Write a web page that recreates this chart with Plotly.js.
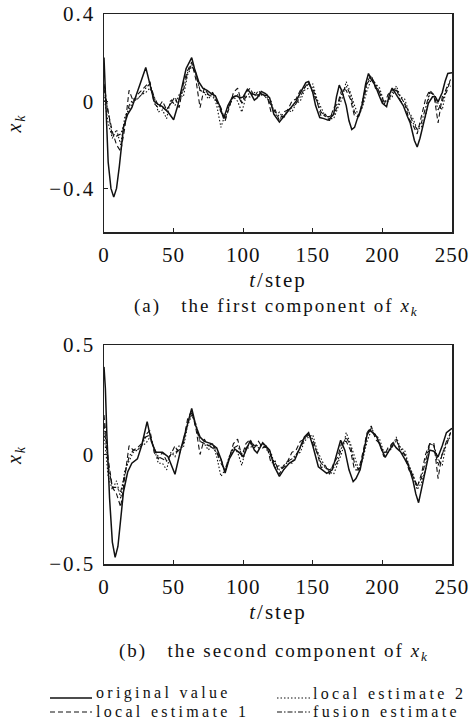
<!DOCTYPE html>
<html>
<head>
<meta charset="utf-8">
<script src="https://cdn.plot.ly/plotly-3.0.1.min.js"></script>
<style>
html, body { margin: 0; padding: 0; background: #fff; }
#chart { width: 469px; height: 726px; }
svg text { letter-spacing: 2px; }
.xtick text, .x2tick text { letter-spacing: 1px; }
</style>
</head>
<body>
<div id="chart"></div>
<script>
// ---------- data ----------
var tEst = [0,3,6,9,12,15,18,21,24,27,30,33,36,39,42,45,48,51,54,57,60,63,66,69,72,75,78,81,84,87,90,93,96,99,102,105,108,111,114,117,120,123,126,129,132,135,138,141,144,147,150,153,156,159,162,165,168,171,174,177,180,183,186,189,192,195,198,201,204,207,210,213,216,219,222,225,228,231,234,237,240,243,246,249];

// (a) first component
var tOrig1 = [0,1,3,5,7,9,11,14,17,20,23,26,30,33,36,39,42,46,50,53,56,59,63,65,68,71,74,77,80,83,86,89,92,95,98,100,103,105,108,110,113,116,119,122,126,129,132,135,138,142,145,147,150,152,155,158,161,165,167,169,171,174,176,178,180,182,185,188,190,192,195,198,200,203,205,207,210,212,215,218,220,223,225,227,229,231,233,236,238,240,243,245,247,250];
var orig1 = [0.2,0.05,-0.28,-0.40,-0.44,-0.40,-0.30,-0.12,-0.06,-0.03,0.03,0.08,0.155,0.07,0.0,-0.015,-0.025,-0.05,-0.085,-0.02,0.06,0.15,0.2,0.15,0.09,0.06,0.05,0.035,0.025,-0.02,-0.08,-0.02,0.015,0.025,0.015,0.02,0.055,0.04,0.005,0.015,0.045,0.035,0.015,-0.06,-0.095,-0.07,-0.045,-0.025,0.0,0.05,0.085,0.09,0.04,-0.02,-0.075,-0.08,-0.087,-0.06,0.02,0.074,0.045,-0.02,-0.09,-0.13,-0.12,-0.08,-0.03,0.08,0.127,0.1,0.07,0.02,-0.01,-0.025,0.03,0.06,0.03,0.01,-0.02,-0.07,-0.1,-0.18,-0.21,-0.17,-0.12,-0.06,-0.01,0.02,0.02,-0.003,0.04,0.09,0.127,0.13];
var local1a = [0.08,-0.05,-0.14,-0.2,-0.23,-0.12,0.05,0.0,0.03,0.05, 0.07,0.09,-0.01,-0.03,0.0,-0.04,-0.01,0.02,-0.03,0.08, 0.14,0.18,0.1,-0.03,0.06,0.03,0.04,0.0,-0.03,-0.09, -0.03,0.04,0.06,-0.01,0.04,0.06,0.02,0.05,0.02,0.03, -0.05,-0.04,-0.09,-0.05,-0.04,0.0,0.01,0.05,0.06,0.09, 0.04,0.0,-0.07,-0.06,-0.09,-0.03,-0.01,0.06,0.05,0.01, -0.07,-0.07,0.01,0.09,0.12,0.06,0.04,-0.02,0.03,0.05, 0.06,0.0,-0.01,-0.08,-0.11,-0.15,-0.07,0.01,0.05,0.03, -0.1,0.02,0.04,0.1];
var local2a = [0.02,-0.1,-0.17,-0.13,-0.2,-0.07,-0.04,0.0,0.01,0.03, 0.04,0.06,0.02,-0.05,-0.04,-0.08,0.01,-0.02,0.03,0.02, 0.12,0.16,0.13,0.05,0.04,0.01,0.04,-0.02,-0.12,-0.06, -0.02,0.02,0.0,-0.05,0.02,0.02,0.04,0.02,0.04,0.01, 0.0,-0.07,-0.05,-0.08,-0.04,-0.05,-0.01,0.0,0.05,0.06, 0.08,0.01,-0.03,-0.07,-0.08,-0.08,-0.03,0.01,0.09,0.04, -0.02,-0.07,-0.02,0.05,0.1,0.08,0.06,0.0,0.0,0.02, 0.07,0.02,0.01,-0.05,-0.08,-0.13,-0.12,-0.07,0.04,0.03, -0.01,-0.04,0.06,0.07];
var fusiona = [0.06,-0.06,-0.16,-0.16,-0.15,-0.1,-0.02,0.01,0.01,0.03, 0.06,0.08,0.02,-0.02,-0.03,-0.04,-0.01,0.0,0.01,0.05, 0.13,0.17,0.12,0.05,0.04,0.03,0.02,0.0,-0.05,-0.08, -0.02,0.02,0.03,-0.01,0.02,0.04,0.03,0.03,0.03,0.02, -0.02,-0.05,-0.07,-0.07,-0.04,-0.03,-0.01,0.02,0.06,0.08, 0.06,0.0,-0.05,-0.07,-0.07,-0.06,-0.02,0.04,0.07,0.03, -0.05,-0.07,-0.01,0.08,0.11,0.08,0.04,0.0,0.0,0.04, 0.05,0.02,-0.01,-0.05,-0.1,-0.13,-0.1,-0.03,0.04,0.03, -0.04,0.0,0.06,0.1];

// (b) second component
var tOrig2 = [0,1,2,4,6,8,10,12,14,17,20,24,27,31,34,37,42,46,51,55,59,63,66,69,72,77,81,84,87,90,94,97,100,102,105,108,110,114,117,119,122,126,129,133,137,141,144,147,150,154,157,160,164,167,170,173,176,179,181,184,187,189,191,194,196,199,202,205,208,210,213,216,219,222,224,226,228,231,234,237,240,243,246,249,250];
var orig2 = [0.4,0.3,0.1,-0.2,-0.4,-0.47,-0.42,-0.3,-0.17,-0.08, -0.04,-0.02,0.04,0.15,0.06,0.01,0.01,-0.01,-0.09,0.02, 0.12,0.21,0.13,0.08,0.06,0.05,0.03,-0.02,-0.085,-0.02, 0.025,0.01,-0.01,0.02,0.063,0.02,0.007,0.054,0.035,0.02, -0.05,-0.1,-0.07,-0.04,-0.025,0.04,0.08,0.1,0.04,-0.056, -0.07,-0.086,-0.07,0.0,0.065,0.02,-0.07,-0.124,-0.11,-0.07, 0.03,0.09,0.112,0.09,0.08,0.03,-0.013,0.02,0.048,0.03, 0.013,-0.02,-0.056,-0.12,-0.18,-0.22,-0.16,-0.07,0.02,0.015, -0.01,0.04,0.1,0.115,0.12];
var local1b = [0.18,-0.02,-0.15,-0.18,-0.24,-0.1,0.04,0.02,0.03,0.05, 0.09,0.11,0.01,-0.02,0.01,-0.03,0.0,0.04,0.0,0.06, 0.16,0.2,0.12,0.0,0.07,0.04,0.05,0.01,-0.02,-0.08, -0.02,0.05,0.07,-0.01,0.05,0.07,0.03,0.06,0.03,0.04, -0.04,-0.03,-0.09,-0.05,-0.03,0.01,0.02,0.06,0.07,0.1, 0.05,0.01,-0.06,-0.05,-0.09,-0.04,-0.01,0.06,0.06,0.02, -0.07,-0.07,0.01,0.1,0.13,0.07,0.05,-0.01,0.03,0.05, 0.07,0.01,0.0,-0.07,-0.1,-0.15,-0.09,0.0,0.05,0.05, -0.11,0.01,0.04,0.1];
var local2b = [0.1,-0.1,-0.16,-0.12,-0.2,-0.07,-0.03,0.01,0.02,0.04, 0.05,0.08,0.03,-0.04,-0.04,-0.07,0.01,-0.01,0.04,0.03, 0.13,0.18,0.14,0.06,0.05,0.02,0.05,-0.01,-0.1,-0.07, -0.01,0.03,0.01,-0.05,0.03,0.03,0.05,0.03,0.05,0.02, 0.01,-0.06,-0.05,-0.07,-0.03,-0.04,0.0,0.01,0.06,0.08, 0.09,0.02,-0.02,-0.06,-0.08,-0.09,-0.04,0.01,0.1,0.05, -0.01,-0.07,-0.02,0.06,0.11,0.09,0.07,0.01,0.01,0.03, 0.08,0.03,0.02,-0.05,-0.09,-0.16,-0.13,-0.07,0.05,0.04, -0.02,-0.05,0.06,0.08];
var fusionb = [0.14,-0.05,-0.15,-0.15,-0.17,-0.09,-0.01,0.02,0.02,0.04, 0.08,0.09,0.03,-0.01,-0.02,-0.03,0.0,0.01,0.02,0.05, 0.14,0.19,0.13,0.06,0.05,0.04,0.03,0.01,-0.04,-0.07, -0.01,0.03,0.04,0.0,0.03,0.05,0.04,0.04,0.04,0.03, -0.01,-0.04,-0.07,-0.06,-0.03,-0.02,0.0,0.03,0.07,0.09, 0.07,0.01,-0.04,-0.06,-0.07,-0.06,-0.03,0.04,0.08,0.04, -0.04,-0.07,-0.01,0.09,0.12,0.09,0.05,0.01,0.01,0.05, 0.06,0.03,0.0,-0.05,-0.1,-0.14,-0.11,-0.03,0.05,0.04, -0.05,0.0,0.06,0.1];

var xTicks = [0,50,100,150,200,250];
var yTicksA = [-0.4,0,0.4], yTextA = ['\u22120.4','0','0.4'];
var yTicksB = [-0.5,0,0.5], yTextB = ['\u22120.5','0','0.5'];
var seriesNames = ['original value','local estimate 1','local estimate 2','fusion estimate'];

// ---------- styles ----------
var FONT = "'Liberation Serif', serif";
var INK = '#111';
var styles = [
  {width: 1.5, dash: 'solid'},
  {width: 1.1, dash: '5px,3px'},
  {width: 1.1, dash: '1.5px,2px'},
  {width: 1.1, dash: '5px,2px,1.5px,2px'}
];

function series(xa, ya, xs, ys, i) {
  return {type: 'scatter', mode: 'lines', x: xs, y: ys, xaxis: xa, yaxis: ya,
          name: seriesNames[i], showlegend: false,
          line: {color: INK, width: styles[i].width, dash: styles[i].dash}};
}

var data = [
  series('x','y',tEst,local1a,1), series('x','y',tEst,local2a,2), series('x','y',tEst,fusiona,3), series('x','y',tOrig1,orig1,0),
  series('x2','y2',tEst,local1b,1), series('x2','y2',tEst,local2b,2), series('x2','y2',tEst,fusionb,3), series('x2','y2',tOrig2,orig2,0)
];

var W = 469, H = 726;
function px(x) { return x / W; }
function py(y) { return (H - y) / H; }

function xAxis(anchor, dom) {
  return {domain: dom, anchor: anchor, range: [0,250], tickvals: xTicks, ticktext: xTicks.map(String),
          ticks: 'inside', ticklen: 4, tickwidth: 1.3, tickcolor: '#222',
          showline: true, mirror: true, linewidth: 1.5, linecolor: '#222',
          showgrid: false, zeroline: false, ticklabelstandoff: 3, ticklabeloverflow: 'allow',
          tickfont: {family: FONT, size: 21, color: INK},
          title: {text: '<i>t</i>/step', font: {family: FONT, size: 21, color: INK}, standoff: 6}};
}
function yAxis(anchor, dom, rng, tv, tt) {
  return {domain: dom, anchor: anchor, range: rng, tickvals: tv, ticktext: tt,
          ticks: 'inside', ticklen: 4, tickwidth: 1.3, tickcolor: '#222',
          showline: true, mirror: true, linewidth: 1.5, linecolor: '#222',
          showgrid: false, zeroline: false, ticklabelstandoff: 3, ticklabeloverflow: 'allow',
          tickfont: {family: FONT, size: 21, color: INK},
          title: {text: '<i>x</i><sub><i>k</i></sub>', font: {family: FONT, size: 20, color: INK}, standoff: 22}};
}

var LEG = 16, LS = 'letter-spacing:3.3px';
function legText(x, y, s) {
  return {xref: 'paper', yref: 'paper', x: px(x), y: py(y), xanchor: 'left', yanchor: 'middle', showarrow: false,
          borderpad: 0, text: '<span style="' + LS + '">' + s + '</span>', font: {family: FONT, size: LEG, color: INK}};
}
function legLine(x0, x1, y, i) {
  return {type: 'line', xref: 'paper', yref: 'paper', x0: px(x0), x1: px(x1), y0: py(y), y1: py(y),
          line: {color: INK, width: styles[i].width, dash: styles[i].dash}};
}

var xDom = [px(104), px(452)];
var layout = {
  width: W, height: H,
  margin: {l: 0, r: 0, t: 0, b: 0, pad: 0},
  paper_bgcolor: '#fff', plot_bgcolor: '#fff',
  showlegend: false,
  xaxis: xAxis('y', xDom),
  yaxis: yAxis('x', [py(232), py(14)], [-0.6, 0.4], yTicksA, yTextA),
  xaxis2: xAxis('y2', xDom),
  yaxis2: yAxis('x2', [py(564), py(345)], [-0.5, 0.5], yTicksB, yTextB),
  annotations: [
    {xref: 'paper', yref: 'paper', x: px(276), y: py(307), xanchor: 'center', yanchor: 'middle', showarrow: false,
     text: '(a)\u00a0\u00a0 the first component of <i>x</i><sub><i>k</i></sub>', font: {family: FONT, size: 19, color: INK}},
    {xref: 'paper', yref: 'paper', x: px(274), y: py(652), xanchor: 'center', yanchor: 'middle', showarrow: false,
     text: '(b)\u00a0\u00a0 the second component of <i>x</i><sub><i>k</i></sub>', font: {family: FONT, size: 19, color: INK}},
    legText(95, 693, seriesNames[0]),
    legText(95, 711, seriesNames[1]),
    legText(312, 693, seriesNames[2]),
    legText(312, 711, seriesNames[3])
  ],
  shapes: [
    legLine(50, 92, 698, 0),
    legLine(50, 92, 712, 1),
    legLine(277, 310, 698, 2),
    legLine(277, 310, 712, 3)
  ]
};

Plotly.newPlot('chart', data, layout, {staticPlot: true, displayModeBar: false});
</script>
</body>
</html>
